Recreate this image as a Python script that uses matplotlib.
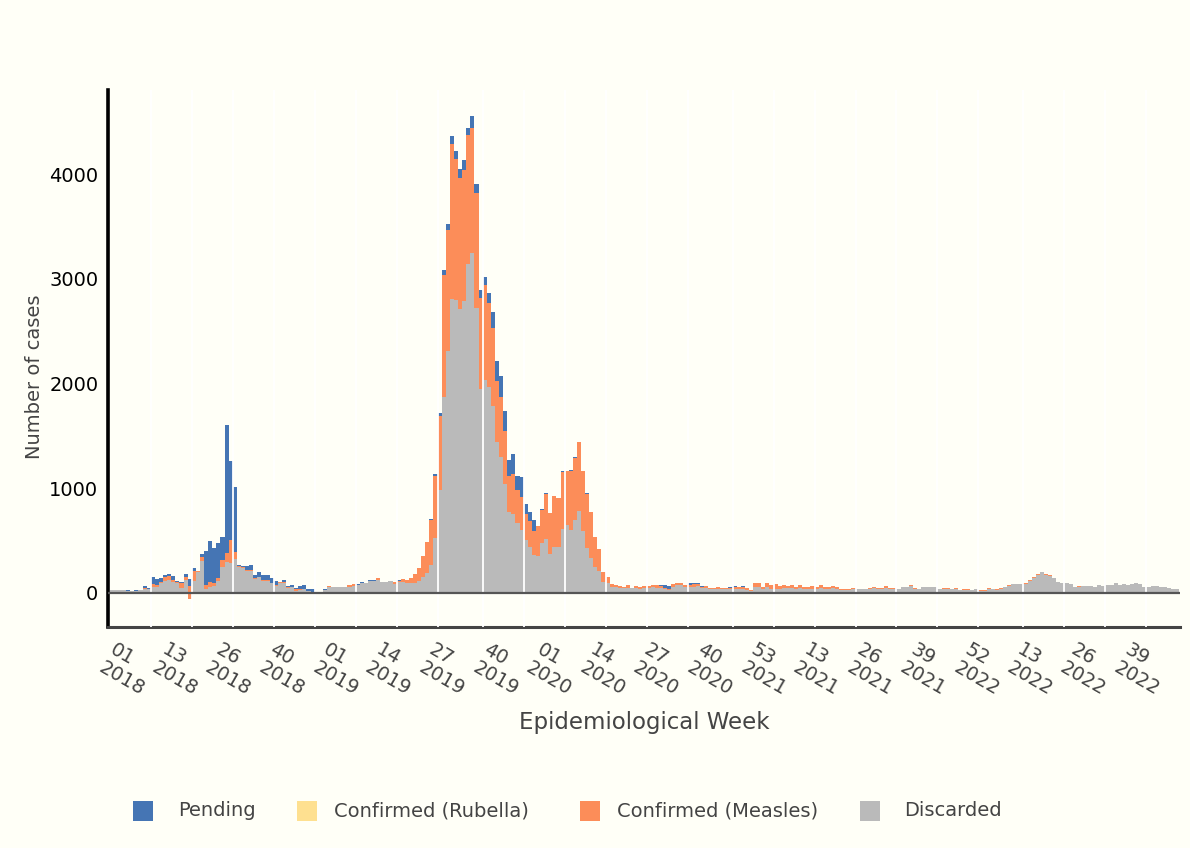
import numpy as np
import matplotlib
matplotlib.use("Agg")
import matplotlib.pyplot as plt
import matplotlib.dates as mdates
from matplotlib.patches import Rectangle

# ---------------- data ----------------
first_week_end = "2018-01-06"   # epidemiological week 01/2018 (Saturday)
n_weeks = 261                   # 2018-W01 .. 2022-W52

discarded = [
    25, 25, 25, 25, 20, 20, 20, 25, 38, 38,
    60, 60, 99, 118, 124, 105, 92, 51, 124, 67,
    114, 197, 305, 41, 57, 67, 114, 251, 296, 283,
    324, 245, 242, 213, 213, 134, 150, 118, 118, 92,
    70, 99, 99, 51, 54, 22, 29, 41, 22, 13,
    0, 0, 29, 54, 54, 54, 54, 54, 57, 70,
    76, 95, 95, 115, 115, 124, 105, 105, 111, 86,
    105, 105, 95, 95, 95, 114, 153, 194, 270, 528,
    983, 1873, 2309, 2805, 2795, 2709, 2785, 3142, 3244, 2719,
    1949, 2032, 1968, 1784, 1444, 1297, 1040, 773, 754, 668,
    601, 506, 439, 363, 356, 477, 515, 372, 439, 439,
    611, 649, 601, 696, 782, 592, 429, 334, 248, 210,
    105, 95, 57, 57, 48, 48, 48, 45, 48, 38,
    48, 48, 57, 48, 48, 38, 29, 57, 76, 76,
    57, 57, 57, 67, 48, 48, 38, 38, 38, 38,
    38, 38, 38, 38, 38, 29, 19, 57, 57, 38,
    57, 38, 38, 38, 48, 48, 48, 38, 48, 38,
    38, 38, 38, 48, 38, 38, 48, 38, 29, 29,
    29, 38, 38, 38, 38, 38, 48, 38, 38, 48,
    38, 38, 38, 57, 57, 67, 38, 38, 57, 57,
    57, 57, 38, 38, 38, 38, 38, 29, 29, 29,
    29, 38, 22, 22, 41, 38, 32, 41, 57, 67,
    86, 83, 83, 89, 118, 143, 172, 200, 175, 162,
    143, 105, 95, 95, 86, 57, 57, 67, 67, 67,
    57, 76, 67, 76, 76, 95, 76, 86, 76, 86,
    95, 86, 57, 57, 67, 67, 57, 57, 48, 38,
    38,
]

confirmed_measles = [
    0, 0, 0, 0, 0, 0, 0, 8, 7, 0,
    23, 20, 6, 35, 38, 19, 13, 41, 29, -124,
    96, 8, 42, 35, 48, 28, 29, 64, 86, 223,
    67, 10, 8, 6, 6, 6, 6, 6, 6, 7,
    6, 6, 6, 6, 0, 13, 6, 0, 0, 0,
    0, 0, 0, 13, 3, 3, 3, 3, 19, 20,
    0, 0, 0, 0, 0, 19, 0, 0, 0, 19,
    9, 29, 29, 48, 86, 121, 203, 289, 426, 588,
    706, 1161, 1154, 1478, 1346, 1253, 1250, 1228, 1198, 1097,
    865, 906, 799, 744, 578, 573, 506, 343, 381, 315,
    315, 248, 248, 229, 283, 315, 429, 391, 486, 467,
    543, 515, 563, 592, 658, 572, 515, 439, 286, 210,
    95, 58, 29, 19, 19, 9, 28, 5, 19, 19,
    19, 19, 19, 28, 19, 10, 9, 29, 19, 19,
    19, 19, 29, 19, 9, 19, 10, 10, 19, 10,
    10, 10, 19, 19, 19, 19, 10, 38, 38, 19,
    38, 38, 48, 29, 28, 19, 28, 19, 28, 19,
    19, 29, 19, 28, 19, 19, 19, 19, 9, 9,
    9, 10, 2, 2, 2, 10, 9, 10, 10, 19,
    10, 7, 2, 3, 0, 9, 10, 0, 0, 0,
    0, 0, 0, 10, 10, 0, 10, 0, 9, 9,
    0, 0, 7, 7, 7, 0, 6, 7, 0, 9,
    3, 3, 3, 6, 6, 10, 9, 0, 6, 10,
    0, 0, 0, 0, 0, 0, 10, 0, 0, 0,
    0, 0, 0, 0, 0, 0, 0, 0, 0, 0,
    0, 0, 0, 0, 0, 0, 0, 0, 0, 0,
    0,
]

confirmed_rubella = [0] * n_weeks

pending = [
    0, 0, 0, 0, 10, 0, 9, 0, 22, 10,
    70, 54, 38, 19, 22, 38, 9, 13, 31, 191,
    28, 8, 25, 324, 391, 337, 334, 219, 1221, 753,
    620, 12, 10, 41, 48, 32, 41, 48, 48, 41,
    38, 3, 19, 13, 22, 10, 32, 35, 16, 25,
    10, 10, 9, 0, 0, 0, 0, 0, 0, 0,
    10, 10, 0, 9, 9, 0, 0, 0, 0, 0,
    10, 0, 0, 2, 3, 3, 0, 0, 9, 19,
    25, 47, 57, 77, 79, 83, 96, 66, 109, 86,
    77, 77, 95, 153, 191, 200, 190, 153, 191, 133,
    191, 95, 86, 104, 0, 9, 10, 0, 0, 0,
    10, 0, 9, 9, 0, 0, 10, 0, 0, 0,
    0, 0, 0, 0, 0, 0, 0, 0, 0, 0,
    0, 0, 0, 0, 9, 28, 29, 0, 0, 0,
    0, 19, 9, 9, 10, 0, 0, 0, 0, 0,
    0, 9, 10, 0, 10, 0, 0, 0, 0, 0,
    0, 0, 0, 0, 0, 0, 0, 0, 0, 0,
    0, 0, 0, 0, 0, 0, 0, 0, 0, 0,
    0, 0, 0, 0, 0, 0, 0, 0, 0, 0,
    0, 0, 0, 0, 0, 0, 0, 0, 0, 0,
    0, 0, 0, 0, 0, 0, 0, 0, 0, 0,
    0, 0, 0, 0, 0, 0, 0, 0, 0, 0,
    0, 0, 0, 0, 0, 0, 0, 0, 0, 0,
    0, 0, 0, 0, 0, 0, 0, 0, 0, 0,
    0, 0, 0, 0, 0, 0, 0, 0, 0, 0,
    0, 0, 0, 0, 0, 0, 0, 0, 0, 0,
    0,
]

tick_dates = ["2018-01-01", "2018-04-01", "2018-07-01", "2018-10-01",
              "2019-01-01", "2019-04-01", "2019-07-01", "2019-10-01",
              "2020-01-01", "2020-04-01", "2020-07-01", "2020-10-01",
              "2021-01-01", "2021-04-01", "2021-07-01", "2021-10-01",
              "2022-01-01", "2022-04-01", "2022-07-01", "2022-10-01"]
tick_labels = ["01\n2018", "13\n2018", "26\n2018", "40\n2018",
               "01\n2019", "14\n2019", "27\n2019", "40\n2019",
               "01\n2020", "14\n2020", "27\n2020", "40\n2020",
               "53\n2021", "13\n2021", "26\n2021", "39\n2021",
               "52\n2022", "13\n2022", "26\n2022", "39\n2022"]

# weeks separating the white guide lines (counted in bars)
guide_steps = [10] * 8 + [11] + [10] * 5 + [11] + [10] * 6 + [11] + [10] * 3

series_names = ["Pending", "Confirmed (Rubella)", "Confirmed (Measles)", "Discarded"]
series_colors = ["#4575b4", "#fee090", "#fc8d59", "#bababa"]

# ---------------- figure ----------------
W, H = 1190, 848
BG = "#fffff7"
plt.rcParams["font.family"] = ["DejaVu Sans"]
fig = plt.figure(figsize=(W / 100, H / 100), dpi=100, facecolor=BG)
ax = fig.add_axes([108 / W, 1 - 627 / H, (1180 - 108) / W, (627 - 90) / H])
ax.set_facecolor(BG)

dates = np.datetime64(first_week_end) + np.arange(n_weeks) * np.timedelta64(7, "D")
x = mdates.date2num(dates.astype("datetime64[D]").astype(object))
d = np.array(discarded, float)
m = np.array(confirmed_measles, float)
r = np.array(confirmed_rubella, float)
p = np.array(pending, float)

bw = 7.0
ax.bar(x, p, bottom=d + m + r, width=bw, color=series_colors[0], linewidth=0, zorder=1)
ax.bar(x, d, bottom=0, width=bw, color=series_colors[3], linewidth=0, zorder=2)
ax.bar(x, m, bottom=d, width=bw, color=series_colors[2], linewidth=0, zorder=3)
ax.bar(x, r, bottom=d + m, width=bw, color=series_colors[1], linewidth=0, zorder=3)

# white guide lines
idx = np.cumsum(guide_steps)
for k in idx:
    xv = x[k] - bw / 2
    ax.axvline(xv, color="white", lw=1.3, zorder=4)

ax.axhline(0, color="#555555", lw=1.6, zorder=5)

x0 = mdates.date2num(np.datetime64("2017-12-31").astype(object)) - 0.6
x1 = x[-1] + bw / 2 + 1.4
ax.set_xlim(x0, x1)
ax.set_ylim(-325, 4802)

for s in ["top", "right"]:
    ax.spines[s].set_visible(False)
ax.spines["left"].set_color("black")
ax.spines["left"].set_linewidth(2.6)
ax.spines["bottom"].set_color("#444444")
ax.spines["bottom"].set_linewidth(2.2)

ax.set_yticks([0, 1000, 2000, 3000, 4000])
ax.set_yticklabels(["0", "1000", "2000", "3000", "4000"])
ax.tick_params(axis="y", length=0, pad=7, labelsize=14, labelcolor="black")
ax.set_xticks([])

tdn = [mdates.date2num(np.datetime64(t).astype(object)) for t in tick_dates]
import matplotlib.transforms as mtrans
base = mtrans.blended_transform_factory(ax.transData, fig.transFigure)
for tx, lab in zip(tdn, tick_labels):
    tr = mtrans.offset_copy(base, fig=fig, x=5, y=0, units="points")
    ax.text(tx, 1 - 640 / H, lab, transform=tr, rotation=-30, rotation_mode="anchor",
            ha="left", va="top", multialignment="left", fontsize=14,
            color="#444444", linespacing=1.15, clip_on=False)

fig.text(644 / W, 1 - 723 / H, "Epidemiological Week", ha="center", va="center",
         fontsize=16.5, color="#444444")
fig.text(35 / W, 1 - 377 / H, "Number of cases", ha="center", va="center",
         rotation=90, fontsize=14, color="#444444")

# legend
sq_x = [133, 297, 580, 860]
tx_x = [178, 334, 617, 904]
for name, col, sx, tx in zip(series_names, series_colors, sq_x, tx_x):
    fig.add_artist(Rectangle((sx / W, 1 - 821 / H), 20 / W, 20 / H,
                             transform=fig.transFigure, facecolor=col, edgecolor="none"))
    fig.text(tx / W, 1 - 811 / H, name, ha="left", va="center", fontsize=14, color="#444444")

fig.savefig("out.png", dpi=100, facecolor=BG)
